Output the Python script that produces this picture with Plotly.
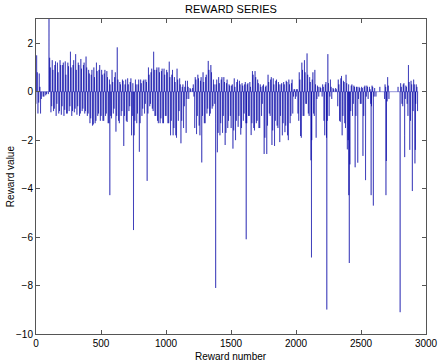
import plotly.graph_objects as go

# ---- data (reward number -> reward value) ----
N_REWARDS = 2940
BIN = 20  # each 20-reward bin: two positive and two negative rewards

# block 0-500
pos_a = [1.5, 0.75, 0, 0, 0, 1.4, 1.3, 1.1, 1.2, 1.3, 1.1, 1.25, 1.2, 1.65, 1.1, 1.55, 1.2, 1.35, 1.1, 1.45, 0.9, 0.7, 1.0, 1.2, 0.9]
neg_a = [-0.9, -0.9, -0.2, -0.15, -0.1, -0.85, -0.8, -1.0, -0.9, -0.95, -1.0, -0.9, -0.8, -1.0, -0.85, -0.95, -1.0, -0.8, -0.9, -1.0, -1.3, -1.4, -1.3, -1.0, -1.2]
pos2_a = [0.8, 0.2, 0, 0, 0, 1.0, 0.9, 1.25, 0.8, 1.1, 1.2, 0.7, 1.05, 1.0, 1.3, 0.9, 1.1, 0.95, 1.2, 1.0, 0.75, 0.9, 0.6, 0.85, 1.1]
neg2_a = [-0.5, -0.45, -0.3, -0.2, -0.1, 0, -0.6, -0.7, -0.5, -0.8, -0.6, -0.75, -0.9, -0.6, -0.8, -0.7, -0.6, -0.9, -0.7, -0.8, -0.9, -1.1, -1.35, -1.2, -0.9]
# block 500-1000
pos_b = [0.9, 0.75, 0.85, 0.5, 0.9, 0.6, 1.83, 0.4, 0.5, 0.3, 0.55, 0.4, 0.35, 0.5, 0.3, 0.5, 0.45, 0.5, 1.0, 0.8, 1.65, 0.9, 1.0, 0.85, 0.95]
neg_b = [-1.2, -1.0, -1.3, -1.0, -0.9, -1.65, -1.2, -1.0, -2.24, -1.2, -0.8, -1.8, -1.8, -1.3, -2.48, -1.0, -0.9, -3.68, -0.6, -0.7, -1.0, -1.2, -1.3, -1.3, -1.0]
pos2_b = [0.7, 0.9, 0.6, 0.3, 0.4, 0.8, 0.5, 0.3, 0.45, 0.5, 0.3, 0.55, 0.45, 0.3, 0.5, 0.35, 0.5, 0.4, 0.7, 0.95, 0.9, 1.0, 0.8, 0.95, 0.7]
neg2_b = [-1.0, -1.2, -0.9, -1.3, -1.1, -0.7, -1.0, -1.3, -0.8, -1.0, -1.25, -0.6, -1.0, -1.2, -0.9, -1.3, -0.7, -0.5, -0.9, -0.5, -0.8, -1.0, -1.3, -1.1, -1.3]
# block 1000-1500
pos_c = [0.9, 1.24, 0.7, 0.6, 0.95, 0.55, 0.2, 0.2, 0.45, 0.15, 0.15, 0.6, 0.7, 0.45, 0.8, 0.6, 1.27, 1.1, 0.5, 0.3, 0.6, 0.5, 0.6, 0.35, 0.3]
neg_c = [-1.3, -1.8, -1.8, -1.8, -1.2, -2.13, -1.5, -1.7, -0.3, 0, -0.2, -1.75, -1.4, -2.92, -1.3, -0.9, -1.0, -0.7, -0.5, -2.5, -1.8, -1.7, -2.2, -1.5, -1.0]
pos2_c = [0.8, 0.6, 0.9, 0.4, 0.5, 0.3, 0.3, 0.45, 0.2, 0.1, 0.3, 0.5, 0.55, 0.6, 0.4, 0.7, 0.9, 0.8, 0.3, 0.5, 0.35, 0.6, 0.4, 0.5, 0.25]
neg2_c = [-1.0, -1.3, -1.2, -1.5, -1.9, -0.8, -1.2, -0.6, -0.3, 0, 0, -1.5, -1.0, -1.8, -1.0, -1.3, -0.7, -0.9, -0.6, -1.3, -1.7, -1.3, -1.0, -1.7, -1.2]
# block 1500-2000
pos_d = [0.25, 0.55, 0.4, 0.45, 0.35, 0.3, 0.3, 0.4, 0.85, 0.85, 0.5, 0.3, 0.25, 0.2, 0.7, 0.5, 0.55, 0.45, 0.4, 0.3, 0.4, 0.45, 0.5, 0.35, 0.1]
neg_d = [-2.35, -2.0, -1.45, -1.77, -1.2, -1.3, -1.0, -1.79, -1.5, -1.3, -1.5, -1.0, -2.57, -2.57, -0.9, -2.2, -2.24, -1.4, -2.08, -1.8, -1.67, -1.8, -1.3, -0.9, -0.3]
pos2_d = [0.3, 0.2, 0.5, 0.3, 0.25, 0.4, 0.35, 0.2, 0.7, 0.6, 0.35, 0.2, 0.3, 0.25, 0.4, 0.6, 0.3, 0.5, 0.3, 0.35, 0.3, 0.4, 0.3, 0.5, 0.1]
neg2_d = [-1.5, -1.6, -1.2, -1.0, -1.5, -0.9, -1.3, -1.0, -1.3, -1.6, -1.2, -1.5, -0.5, -1.9, -1.4, -1.0, -1.6, -1.2, -1.5, -1.0, -1.3, -1.4, -2.0, -1.0, -0.2]
# block 2000-2500
pos_e = [0.1, 0.8, 1.2, 1.3, 1.58, 0.6, 0.5, 0.9, 0.25, 0.2, 0.3, 0.3, 1.55, 0.5, 0.15, 0.15, 0.5, 0.55, 0.45, 0.7, 0.3, 0.25, 0.25, 0.2, 0.2]
neg_e = [-0.9, -1.83, -1.0, -0.5, -0.9, -2.83, -0.9, -1.9, -0.2, 0, -1.2, -1.9, -1.0, -0.3, 0, 0, -1.2, -1.8, -1.3, -2.38, -3.0, -1.0, -3.12, -2.93, -0.5]
pos2_e = [0.1, 0.5, 0.9, 0.8, 0.7, 0.4, 0.8, 0.3, 0.2, 0.15, 0.2, 0.4, 0.35, 0.2, 0.1, 0.1, 0.3, 0.65, 0.4, 0.35, 0.2, 0.3, 0.2, 0.2, 0.15]
neg2_e = [-0.2, -1.2, -1.9, -1.0, -0.5, -1.0, -2.0, -1.0, -0.3, 0, -0.2, -1.8, -1.2, -0.2, 0, 0, -0.6, -1.24, -1.0, -1.5, -2.0, -0.8, -0.5, -1.0, -0.3]
# block 2500-2940
pos_f = [0.2, 0.2, 0.25, 0.2, 0.25, 0.15, 0, 0.2, 0, 0.3, 0.6, 0, 0, 0, 0.2, 0.35, 0.3, 0.25, 1.1, 0.45, 0.5, 0.3]
neg_f = [-2.65, -3.65, -0.3, -0.5, -4.7, -0.2, 0, 0, 0, -2.86, -0.3, 0, 0, 0, 0, -0.5, -1.8, -0.5, -2.4, -4.1, -2.96, -0.8]
pos2_f = [0.15, 0.25, 0.2, 0.1, 0.2, 0, 0, 0, 0, 0.2, 0.25, 0, 0, 0, 0, 0.2, 0.35, 0.2, 0.4, 0.3, 0.3, 0.2]
neg2_f = [-0.5, -1.0, -0.2, 0, -0.6, -0.2, 0, 0, 0, -0.3, -0.4, 0, 0, 0, 0, 0, -0.6, -0.3, -1.0, -1.2, -0.8, -0.5]

# isolated large rewards / penalties
big_index = [100, 568, 750, 1382, 1617, 2119, 2237, 2406, 2410, 2578, 2692, 2801, 2836, 2918]
big_value = [3.3, -4.27, -5.71, -8.1, -6.09, -6.84, -8.99, -4.27, -7.07, -4.27, -4.27, -9.1, -2.7, -2.4]

x_ticks = [0, 500, 1000, 1500, 2000, 2500, 3000]
y_ticks = [-10, -8, -6, -4, -2, 0, 2]

# ---- build the series ----
reward_number = list(range(1, N_REWARDS + 1))
reward_value = [0.0] * N_REWARDS
blocks = [(0, pos_a, neg_a, pos2_a, neg2_a), (500, pos_b, neg_b, pos2_b, neg2_b),
          (1000, pos_c, neg_c, pos2_c, neg2_c), (1500, pos_d, neg_d, pos2_d, neg2_d),
          (2000, pos_e, neg_e, pos2_e, neg2_e), (2500, pos_f, neg_f, pos2_f, neg2_f)]


def put(i, v):
    if 1 <= i <= N_REWARDS:
        reward_value[i - 1] = v


for start, pos, neg, pos2, neg2 in blocks:
    for k in range(len(pos)):
        base = start + BIN * k
        put(base + 1, neg2[k])
        put(base + 5, pos[k])
        put(base + 10, pos2[k])
        put(base + 15, neg[k])
for i, v in zip(big_index, big_value):
    put(i, v)

FONT = "Liberation Sans, Arial, Helvetica, sans-serif"
AX = "#555555"

fig = go.Figure()
fig.add_trace(go.Scatter(
    x=reward_number, y=reward_value, mode="lines",
    line=dict(color="rgb(0,0,165)", width=0.5, simplify=False),
    hoverinfo="skip", showlegend=False,
))

axis_common = dict(
    showgrid=False, zeroline=False, showline=True, linecolor=AX, linewidth=1,
    mirror="ticks", ticks="inside", ticklen=4, tickcolor=AX,
    ticklabeloverflow="allow",
    tickfont=dict(family=FONT, size=10, color="#000"),
)
fig.update_layout(
    width=446, height=364,
    margin=dict(l=36, r=8, t=19, b=30),
    paper_bgcolor="white", plot_bgcolor="white",
    title=dict(text="REWARD SERIES", x=0.5, xref="paper", y=1 - 9 / 364,
               yanchor="middle", xanchor="center",
               font=dict(family=FONT, size=11, color="#000")),
    xaxis=dict(range=[0, 3000], tickvals=x_ticks, **axis_common),
    yaxis=dict(range=[-10, 3], tickvals=y_ticks, **axis_common),
    annotations=[
        dict(text="Reward number", xref="paper", yref="paper", x=0.5, y=-0.07,
             xanchor="center", yanchor="middle", showarrow=False,
             font=dict(family=FONT, size=10, color="#000")),
        dict(text="Reward value", xref="paper", yref="paper", x=-0.065, y=0.5,
             xanchor="center", yanchor="middle", textangle=-90, showarrow=False,
             font=dict(family=FONT, size=10, color="#000")),
    ],
)
fig.write_html("out.html", config={"displayModeBar": False},
               post_script="document.body.style.margin='0';document.body.style.padding='0';")
